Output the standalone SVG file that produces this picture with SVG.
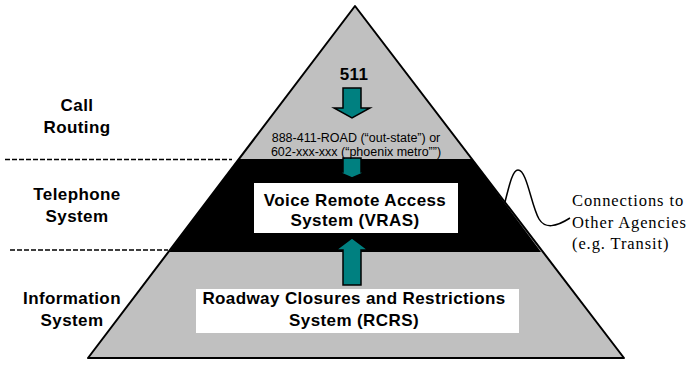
<svg xmlns="http://www.w3.org/2000/svg" width="700" height="366" viewBox="0 0 700 366">
<style>
.lbl{font-family:"Liberation Sans",Arial,sans-serif;font-weight:bold;font-size:17px;letter-spacing:0.4px;fill:#000;text-anchor:middle}
.small{font-family:"Liberation Sans",Arial,sans-serif;font-size:12.5px;fill:#000;text-anchor:middle}
.serif{font-family:"Liberation Serif","Times New Roman",serif;font-size:16.5px;letter-spacing:0.9px;fill:#000}
.dash{stroke:#000;stroke-width:1.5;stroke-dasharray:5 2;fill:none}
.arrow{fill:#008080;stroke:#000;stroke-width:1.5}
</style>
<rect width="700" height="366" fill="#fff"/>
<g id="pyramid">
<polygon points="355,6 88,358 624,358" fill="#c0c0c0" stroke="#000" stroke-width="2" stroke-linejoin="round"/>
<polygon points="239,159 472,159 541,252 169,252" fill="#000"/>
</g>
<g id="connectors">
<line class="dash" x1="5" y1="159.5" x2="232" y2="159.5"/>
<line class="dash" x1="10" y1="250" x2="168" y2="250"/>
<polygon class="arrow" points="343,88 361,88 361,108 370,108 352,118 334,108 343,108"/>
<polygon class="arrow" points="343,158 361,158 361,172 366,172 352,178 338,172 343,172"/>
<polygon class="arrow" points="343,285 361,285 361,250 368,250 352,238 336,250 343,250"/>
<path d="M505,202 C510,182 513,170 518,170 C527,170 531,205 539,219 C545,229 556,227 570,218" fill="none" stroke="#000" stroke-width="1.5"/>
</g>
<g id="label-call-routing">
<text class="lbl" x="77" y="111">Call</text>
<text class="lbl" x="77" y="133">Routing</text>
</g>
<g id="label-telephone">
<text class="lbl" x="77" y="200">Telephone</text>
<text class="lbl" x="77" y="222">System</text>
</g>
<g id="label-information">
<text class="lbl" x="72" y="304">Information</text>
<text class="lbl" x="72" y="326">System</text>
</g>
<g id="node-511">
<text class="lbl" x="354" y="80">511</text>
</g>
<g id="node-numbers">
<text class="small" x="356" y="142">888-411-ROAD (“out-state”) or</text>
<text class="small" x="356" y="156">602-xxx-xxx (“phoenix metro””)</text>
</g>
<g id="node-vras">
<rect x="254" y="183" width="204" height="50" fill="#fff"/>
<text class="lbl" x="355" y="206">Voice Remote Access</text>
<text class="lbl" x="355" y="226">System (VRAS)</text>
</g>
<g id="node-rcrs">
<rect x="196" y="289" width="323" height="44" fill="#fff"/>
<text class="lbl" x="354" y="304">Roadway Closures and Restrictions</text>
<text class="lbl" x="354" y="326">System (RCRS)</text>
</g>
<g id="node-agencies">
<text class="serif" x="572" y="206">Connections to</text>
<text class="serif" x="572" y="228">Other Agencies</text>
<text class="serif" x="572" y="249">(e.g. Transit)</text>
</g>
</svg>
